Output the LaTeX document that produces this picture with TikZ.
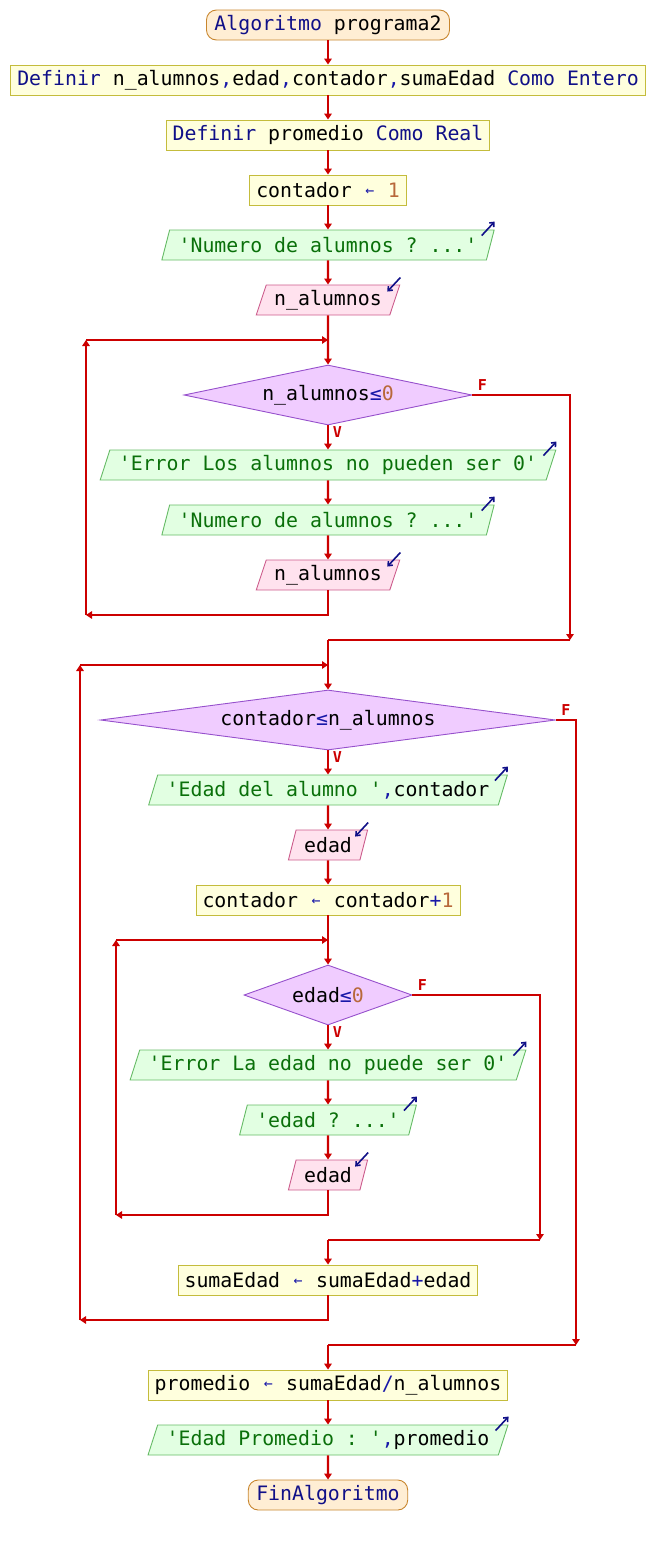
\documentclass[tikz,border=0pt]{standalone}
\usepackage{fontspec}
\setmonofont{DejaVu Sans Mono}
\usepackage{xcolor}
\usetikzlibrary{arrows.meta,shapes.geometric}

\definecolor{flujo}{HTML}{CC0000}
\definecolor{kwazul}{HTML}{101088}
\definecolor{opazul}{HTML}{1818A8}
\definecolor{cadverde}{HTML}{0A700A}
\definecolor{numcafe}{HTML}{B8683A}
\definecolor{termfondo}{HTML}{FFEED4}
\definecolor{termborde}{HTML}{C8862E}
\definecolor{procfondo}{HTML}{FFFFDD}
\definecolor{procborde}{HTML}{C4BC3C}
\definecolor{salfondo}{HTML}{E2FFE2}
\definecolor{salborde}{HTML}{66BB66}
\definecolor{leefondo}{HTML}{FFE2EE}
\definecolor{leeborde}{HTML}{CC5C8C}
\definecolor{condfondo}{HTML}{F0CCFF}
\definecolor{condborde}{HTML}{9650CC}

\newcommand{\pkw}[1]{\textcolor{kwazul}{#1}}
\newcommand{\pstr}[1]{\textcolor{cadverde}{#1}}
\newcommand{\pnro}[1]{\textcolor{numcafe}{#1}}
\newcommand{\popr}[1]{\textcolor{opazul}{#1}}
\newcommand{\pasig}{\textcolor{opazul}{\makebox[0.602em]{\raisebox{0.08em}{\scalebox{0.75}{←}}}}}

\tikzset{
  every node/.style={font=\ttfamily\fontsize{19.85}{22}\selectfont},
  term/.style={draw=termborde,fill=termfondo,line width=0.9pt,rectangle,rounded corners=10pt,minimum height=30pt,inner xsep=8pt,inner ysep=0pt},
  proc/.style={draw=procborde,fill=procfondo,line width=0.9pt,rectangle,minimum height=30pt,inner xsep=6.5pt,inner ysep=0pt},
  salida/.style={draw=salborde,fill=salfondo,line width=0.9pt,trapezium,trapezium left angle=63.4,trapezium right angle=116.6,trapezium stretches body=true,minimum height=30pt,inner xsep=9pt,inner ysep=0pt},
  lectura/.style={draw=leeborde,fill=leefondo,line width=0.9pt,trapezium,trapezium left angle=63.4,trapezium right angle=116.6,trapezium stretches body=true,minimum height=30pt,inner xsep=8pt,inner ysep=0pt},
  cond/.style={draw=condborde,fill=condfondo,line width=0.9pt,diamond,inner sep=0pt,minimum height=60pt},
  flecha/.style={draw=flujo,line width=2.2pt,-{Triangle[length=6pt,width=7.5pt]}},
  linea/.style={draw=flujo,line width=2.2pt},
  etiq/.style={font=\ttfamily\bfseries\fontsize{15}{15}\selectfont,text=flujo,inner sep=0pt},
  icono/.style={draw=kwazul,line width=1.6pt,-{Straight Barb[length=3.5pt,width=6pt]}}
}

\begin{document}
\begin{tikzpicture}[x=1pt,y=-1pt]
\useasboundingbox (0,0) rectangle (656,1545);

\node[term] (inicio) at (328,25) {\pkw{Algoritmo} programa2};
\node[proc] (def1) at (328,80) {\pkw{Definir} n\_alumnos\popr{,}edad\popr{,}contador\popr{,}sumaEdad \pkw{Como} \pkw{Entero}};
\node[proc] (def2) at (328,135) {\pkw{Definir} promedio \pkw{Como} \pkw{Real}};
\node[proc] (asig1) at (328,190) {contador \pasig{} \pnro{1}};
\node[salida] (sal1) at (328,245) {\pstr{'Numero de alumnos ? ...'}};
\node[lectura] (lee1) at (328,300) {n\_alumnos};
\coordinate (j1) at (328,340);
\node[cond,aspect=4.8,minimum width=288pt] (cond1) at (328,395) {n\_alumnos\popr{≤}\pnro{0}};
\node[salida] (sal2) at (328,465) {\pstr{'Error Los alumnos no pueden ser 0'}};
\node[salida] (sal3) at (328,520) {\pstr{'Numero de alumnos ? ...'}};
\node[lectura] (lee2) at (328,575) {n\_alumnos};
\coordinate (r1a) at (86,615);
\coordinate (r1b) at (86,340);
\coordinate (f1b) at (570,640);
\coordinate (m1) at (328,640);

\coordinate (j2) at (328,665);
\node[cond,aspect=7.6,minimum width=455pt] (cond2) at (328,720) {contador\popr{≤}n\_alumnos};
\node[salida] (sal4) at (328,790) {\pstr{'Edad del alumno '}\popr{,}contador};
\node[lectura] (lee3) at (328,845) {edad};
\node[proc] (asig2) at (328,900) {contador \pasig{} contador\popr{+}\pnro{1}};
\coordinate (j3) at (328,940);
\node[cond,aspect=2.8,minimum width=168pt] (cond3) at (328,995) {edad\popr{≤}\pnro{0}};
\node[salida] (sal5) at (328,1065) {\pstr{'Error La edad no puede ser 0'}};
\node[salida] (sal6) at (328,1120) {\pstr{'edad ? ...'}};
\node[lectura] (lee4) at (328,1175) {edad};
\coordinate (r3a) at (116,1215);
\coordinate (r3b) at (116,940);
\coordinate (f3b) at (540,1240);
\coordinate (m3) at (328,1240);
\node[proc] (asig3) at (328,1280) {sumaEdad \pasig{} sumaEdad\popr{+}edad};
\coordinate (r2a) at (80,1320);
\coordinate (r2b) at (80,665);
\coordinate (f2b) at (576,1345);
\coordinate (m2) at (328,1345);

\node[proc] (asig4) at (328,1385) {promedio \pasig{} sumaEdad\popr{/}n\_alumnos};
\node[salida] (sal7) at (328,1440) {\pstr{'Edad Promedio : '}\popr{,}promedio};
\node[term] (fin) at (328,1495) {\pkw{FinAlgoritmo}};

% flujo principal
\draw[flecha] (inicio) -- (def1);
\draw[flecha] (def1) -- (def2);
\draw[flecha] (def2) -- (asig1);
\draw[flecha] (asig1) -- (sal1);
\draw[flecha] (sal1) -- (lee1);
\draw[flecha] (lee1) -- (cond1);
\draw[flecha] (cond1) -- (sal2);
\draw[flecha] (sal2) -- (sal3);
\draw[flecha] (sal3) -- (lee2);
\draw[flecha] (lee2) |- (r1a);
\draw[flecha] (r1a) -- (r1b);
\draw[flecha] (r1b) -- (j1);
\draw[flecha] (cond1) -| (f1b);
\draw[linea] (f1b) -- (m1);
\draw[flecha] (m1) -- (cond2);

\draw[flecha] (cond2) -- (sal4);
\draw[flecha] (sal4) -- (lee3);
\draw[flecha] (lee3) -- (asig2);
\draw[flecha] (asig2) -- (cond3);
\draw[flecha] (cond3) -- (sal5);
\draw[flecha] (sal5) -- (sal6);
\draw[flecha] (sal6) -- (lee4);
\draw[flecha] (lee4) |- (r3a);
\draw[flecha] (r3a) -- (r3b);
\draw[flecha] (r3b) -- (j3);
\draw[flecha] (cond3) -| (f3b);
\draw[linea] (f3b) -- (m3);
\draw[flecha] (m3) -- (asig3);
\draw[flecha] (asig3) |- (r2a);
\draw[flecha] (r2a) -- (r2b);
\draw[flecha] (r2b) -- (j2);
\draw[flecha] (cond2) -| (f2b);
\draw[linea] (f2b) -- (m2);
\draw[flecha] (m2) -- (asig4);
\draw[flecha] (asig4) -- (sal7);
\draw[flecha] (sal7) -- (fin);

% etiquetas V / F
\foreach \c in {cond1,cond2,cond3} {
  \node[etiq] (v\c) at ([shift={(9.5,7)}]\c.south) {V};
  \node[etiq] (f\c) at ([shift={(10,-9.5)}]\c.east) {F};
}

% iconos de entrada/salida
\foreach \n in {sal1,sal2,sal3,sal4,sal5,sal6,sal7}
  \draw[icono] ([shift={(-13,6)}]\n.top right corner) -- ([shift={(0,-8)}]\n.top right corner);
\foreach \n in {lee1,lee2,lee3,lee4}
  \draw[icono] ([shift={(0,-7)}]\n.top right corner) -- ([shift={(-13,7)}]\n.top right corner);
\end{tikzpicture}
\end{document}
